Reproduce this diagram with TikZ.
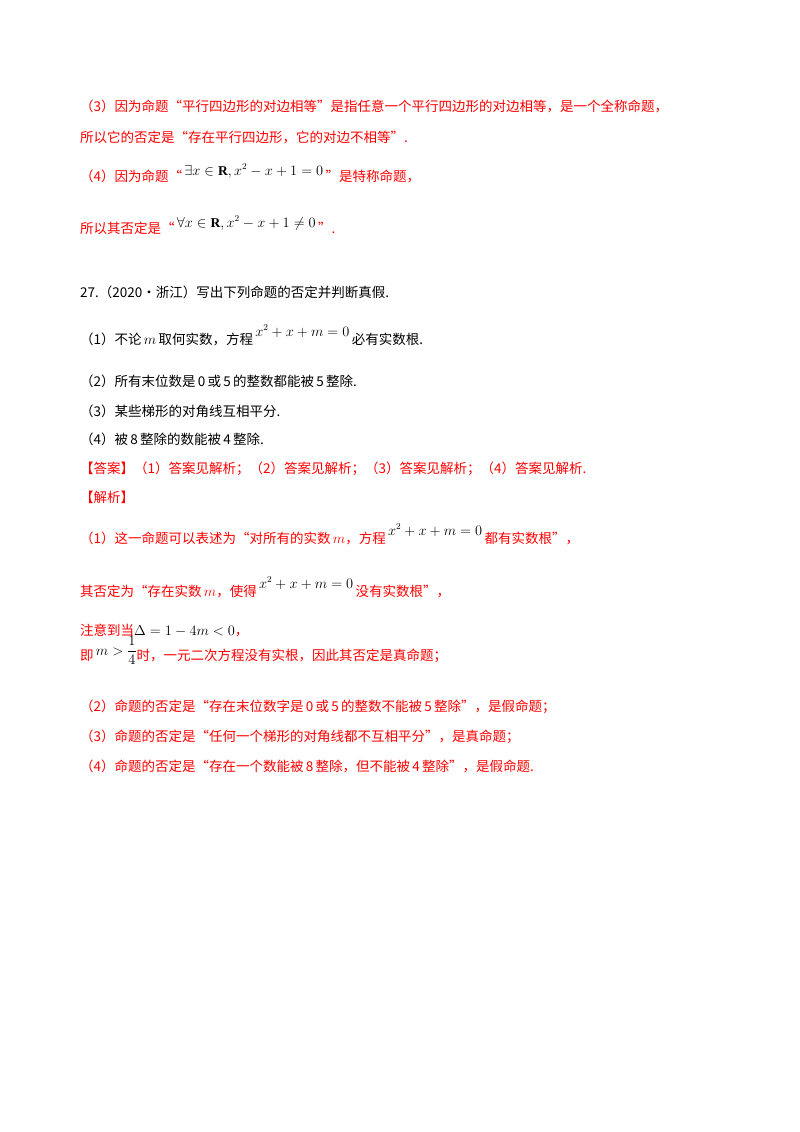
\documentclass[tikz,border=0pt]{standalone}
\usepackage{fontspec}
\usepackage{amsmath}
\setmainfont{Liberation Serif}
\newfontfamily\cjk{Noto Sans CJK SC}
\definecolor{rd}{RGB}{255,0,0}
\begin{document}
\begin{tikzpicture}[x=1pt,y=-1pt,
  ln/.style={anchor=base west,inner sep=0pt,font=\cjk\fontsize{13.5}{16}\selectfont},
  rl/.style={ln,text=rd}]
\useasboundingbox (0,0) rectangle (800,1132);
\node[rl] (a1) at (80,111) {（3）因为命题“平行四边形的对边相等”是指任意一个平行四边形的对边相等，是一个全称命题，};
\node[rl] (a2) at (80,142) {所以它的否定是“存在平行四边形，它的对边不相等”.};
\node[rl] (a3) at (80,181) {（4）因为命题“\,\raisebox{6pt}{\color{black}$\exists x\in\mathbf{R},x^2-x+1=0$}\,”是特称命题，};
\node[rl] (a4) at (80,233) {所以其否定是“\,\raisebox{6pt}{\color{black}$\forall x\in\mathbf{R},x^2-x+1\neq0$}\,”.};
\node[ln] (b0) at (80,297) {27.（2020·浙江）写出下列命题的否定并判断真假.};
\node[ln] (b1) at (80,344) {（1）不论\,$m$\,取何实数，方程\,\raisebox{8pt}{$x^2+x+m=0$}\,必有实数根.};
\node[ln] (b2) at (80,386) {（2）所有末位数是\,0\,或\,5\,的整数都能被\,5\,整除.};
\node[ln] (b3) at (80,416) {（3）某些梯形的对角线互相平分.};
\node[ln] (b4) at (80,444) {（4）被\,8\,整除的数能被\,4\,整除.};
\node[rl] (c0) at (80,473) {【答案】（1）答案见解析；（2）答案见解析；（3）答案见解析；（4）答案见解析.};
\node[rl] (c1) at (80,502) {【解析】};
\node[rl] (c2) at (80,543) {（1）这一命题可以表述为“对所有的实数\,$m$，方程\,\raisebox{8pt}{\color{black}$x^2+x+m=0$}\,都有实数根”，};
\node[rl] (c3) at (80,596) {其否定为“存在实数\,$m$，使得\,\raisebox{8pt}{\color{black}$x^2+x+m=0$}\,没有实数根”，};
\node[rl] (c4) at (80,635) {注意到当{\color{black}$\Delta=1-4m<0$}，};
\node[rl] (c5) at (80,660) {即\,\raisebox{5pt}{\color{black}$m>\dfrac{1}{4}$}时，一元二次方程没有实根，因此其否定是真命题；};
\node[rl] (c6) at (80,711) {（2）命题的否定是“存在末位数字是\,0\,或\,5\,的整数不能被\,5\,整除”，是假命题；};
\node[rl] (c7) at (80,741) {（3）命题的否定是“任何一个梯形的对角线都不互相平分”，是真命题；};
\node[rl] (c8) at (80,771) {（4）命题的否定是“存在一个数能被\,8\,整除，但不能被\,4\,整除”，是假命题.};
\end{tikzpicture}
\end{document}
